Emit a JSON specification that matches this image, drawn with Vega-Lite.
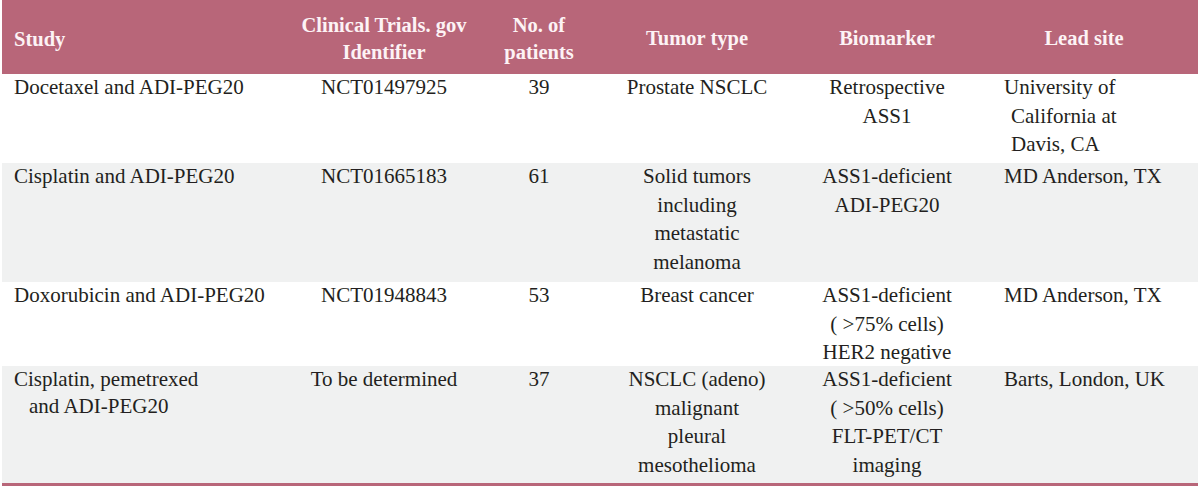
{
  "$schema": "https://vega.github.io/schema/vega-lite/v6.json",
  "width": 1200,
  "height": 486,
  "autosize": {"type": "fit", "contains": "padding"},
  "padding": 0,
  "background": "#ffffff",
  "config": {"view": {"stroke": null}, "text": {"font": "'Liberation Serif', 'DejaVu Serif', serif"}},
  "datasets": {
    "bands": [
      {"row": 0, "end": 1, "shade": "header"},
      {"row": 2, "end": 3, "shade": "grey"},
      {"row": 4, "end": 5, "shade": "grey"}
    ],
    "cells": [
      {"row": 0, "col": 0, "part": "main", "text": "Study"},
      {"row": 0, "col": 1, "part": "main", "text": "Clinical Trials. gov\nIdentifier"},
      {"row": 0, "col": 2, "part": "main", "text": "No. of\npatients"},
      {"row": 0, "col": 3, "part": "main", "text": "Tumor type"},
      {"row": 0, "col": 4, "part": "main", "text": "Biomarker"},
      {"row": 0, "col": 5, "part": "main", "text": "Lead site"},
      {"row": 1, "col": 0, "part": "main", "text": "Docetaxel and ADI-PEG20"},
      {"row": 1, "col": 1, "part": "main", "text": "NCT01497925"},
      {"row": 1, "col": 2, "part": "main", "text": "39"},
      {"row": 1, "col": 3, "part": "main", "text": "Prostate NSCLC"},
      {"row": 1, "col": 4, "part": "main", "text": "Retrospective\nASS1"},
      {"row": 1, "col": 5, "part": "main", "text": "University of"},
      {"row": 1, "col": 5, "part": "cont", "text": "California at\nDavis, CA"},
      {"row": 2, "col": 0, "part": "main", "text": "Cisplatin and ADI-PEG20"},
      {"row": 2, "col": 1, "part": "main", "text": "NCT01665183"},
      {"row": 2, "col": 2, "part": "main", "text": "61"},
      {"row": 2, "col": 3, "part": "main", "text": "Solid tumors\nincluding\nmetastatic\nmelanoma"},
      {"row": 2, "col": 4, "part": "main", "text": "ASS1-deficient\nADI-PEG20"},
      {"row": 2, "col": 5, "part": "main", "text": "MD Anderson, TX"},
      {"row": 3, "col": 0, "part": "main", "text": "Doxorubicin and ADI-PEG20"},
      {"row": 3, "col": 1, "part": "main", "text": "NCT01948843"},
      {"row": 3, "col": 2, "part": "main", "text": "53"},
      {"row": 3, "col": 3, "part": "main", "text": "Breast cancer"},
      {"row": 3, "col": 4, "part": "main", "text": "ASS1-deficient\n( >75% cells)\nHER2 negative"},
      {"row": 3, "col": 5, "part": "main", "text": "MD Anderson, TX"},
      {"row": 4, "col": 0, "part": "main", "text": "Cisplatin, pemetrexed"},
      {"row": 4, "col": 0, "part": "cont", "text": "and ADI-PEG20"},
      {"row": 4, "col": 1, "part": "main", "text": "To be determined"},
      {"row": 4, "col": 2, "part": "main", "text": "37"},
      {"row": 4, "col": 3, "part": "main", "text": "NSCLC (adeno)\nmalignant\npleural\nmesothelioma"},
      {"row": 4, "col": 4, "part": "main", "text": "ASS1-deficient\n( >50% cells)\nFLT-PET/CT\nimaging"},
      {"row": 4, "col": 5, "part": "main", "text": "Barts, London, UK"}
    ]
  },
  "layer": [
    {
      "data": {"name": "bands"},
      "mark": {"type": "rect", "x": 0, "x2": {"expr": "width"}},
      "encoding": {
        "y": {"field": "row", "type": "quantitative", "axis": null,
              "scale": {"domain": [0, 1, 2, 3, 4, 5], "range": [0, 74, 163, 282, 366, 484.5], "zero": false, "nice": false}},
        "y2": {"field": "end"},
        "color": {"field": "shade", "type": "nominal", "legend": null,
                  "scale": {"domain": ["header", "grey"], "range": ["#b86679", "#f0f1f1"]}}
      }
    },
    {
      "data": {"values": [{"row": 5}]},
      "mark": {"type": "rule", "x": 0, "x2": {"expr": "width"}, "color": "#b86679", "strokeWidth": 3},
      "encoding": {
        "y": {"field": "row", "type": "quantitative"}
      }
    },
    {
      "data": {"name": "cells"},
      "transform": [{"filter": "datum.row == 0 && datum.col == 0"}],
      "mark": {"type": "text", "align": "left", "baseline": "middle", "dy": 40, "lineBreak": "\n", "lineHeight": 27,
               "fontSize": 20.5, "fontWeight": "bold", "color": "#fdf3f5"},
      "encoding": {
        "x": {"field": "col", "type": "quantitative", "axis": null,
              "scale": {"domain": [0, 1, 2, 3, 4, 5], "range": [12, 382, 537, 695, 885, 1002], "zero": false, "nice": false}},
        "y": {"field": "row", "type": "quantitative"},
        "text": {"field": "text"}
      }
    },
    {
      "data": {"name": "cells"},
      "transform": [{"filter": "datum.row == 0 && (datum.col == 1 || datum.col == 2)"}],
      "mark": {"type": "text", "align": "center", "baseline": "middle", "dy": 26, "lineBreak": "\n", "lineHeight": 27,
               "fontSize": 20.5, "fontWeight": "bold", "color": "#fdf3f5"},
      "encoding": {
        "x": {"field": "col", "type": "quantitative"},
        "y": {"field": "row", "type": "quantitative"},
        "text": {"field": "text"}
      }
    },
    {
      "data": {"name": "cells"},
      "transform": [{"filter": "datum.row == 0 && (datum.col == 3 || datum.col == 4)"}],
      "mark": {"type": "text", "align": "center", "baseline": "middle", "dy": 39, "lineBreak": "\n", "lineHeight": 27,
               "fontSize": 20.5, "fontWeight": "bold", "color": "#fdf3f5"},
      "encoding": {
        "x": {"field": "col", "type": "quantitative"},
        "y": {"field": "row", "type": "quantitative"},
        "text": {"field": "text"}
      }
    },
    {
      "data": {"name": "cells"},
      "transform": [{"filter": "datum.row == 0 && datum.col == 5"}],
      "mark": {"type": "text", "align": "center", "baseline": "middle", "dx": 80, "dy": 39, "lineBreak": "\n", "lineHeight": 27,
               "fontSize": 20.5, "fontWeight": "bold", "color": "#fdf3f5"},
      "encoding": {
        "x": {"field": "col", "type": "quantitative"},
        "y": {"field": "row", "type": "quantitative"},
        "text": {"field": "text"}
      }
    },
    {
      "data": {"name": "cells"},
      "transform": [{"filter": "datum.row > 0 && datum.part == 'main' && (datum.col == 0 || datum.col == 5)"}],
      "mark": {"type": "text", "align": "left", "baseline": "line-top", "lineBreak": "\n", "lineHeight": 28.7,
               "fontSize": 21, "fontWeight": "normal", "color": "#231f20"},
      "encoding": {
        "x": {"field": "col", "type": "quantitative"},
        "y": {"field": "row", "type": "quantitative"},
        "text": {"field": "text"}
      }
    },
    {
      "data": {"name": "cells"},
      "transform": [{"filter": "datum.part == 'cont' && datum.col == 0"}],
      "mark": {"type": "text", "align": "left", "baseline": "line-top", "dx": 15, "dy": 27, "lineBreak": "\n", "lineHeight": 28.7,
               "fontSize": 21, "fontWeight": "normal", "color": "#231f20"},
      "encoding": {
        "x": {"field": "col", "type": "quantitative"},
        "y": {"field": "row", "type": "quantitative"},
        "text": {"field": "text"}
      }
    },
    {
      "data": {"name": "cells"},
      "transform": [{"filter": "datum.part == 'cont' && datum.col == 5"}],
      "mark": {"type": "text", "align": "left", "baseline": "line-top", "dx": 7, "dy": 28.7, "lineBreak": "\n", "lineHeight": 28.7,
               "fontSize": 21, "fontWeight": "normal", "color": "#231f20"},
      "encoding": {
        "x": {"field": "col", "type": "quantitative"},
        "y": {"field": "row", "type": "quantitative"},
        "text": {"field": "text"}
      }
    },
    {
      "data": {"name": "cells"},
      "transform": [{"filter": "datum.row > 0 && datum.col > 0 && datum.col < 5"}],
      "mark": {"type": "text", "align": "center", "baseline": "line-top", "lineBreak": "\n", "lineHeight": 28.7,
               "fontSize": 21, "fontWeight": "normal", "color": "#231f20"},
      "encoding": {
        "x": {"field": "col", "type": "quantitative"},
        "y": {"field": "row", "type": "quantitative"},
        "text": {"field": "text"}
      }
    }
  ]
}
